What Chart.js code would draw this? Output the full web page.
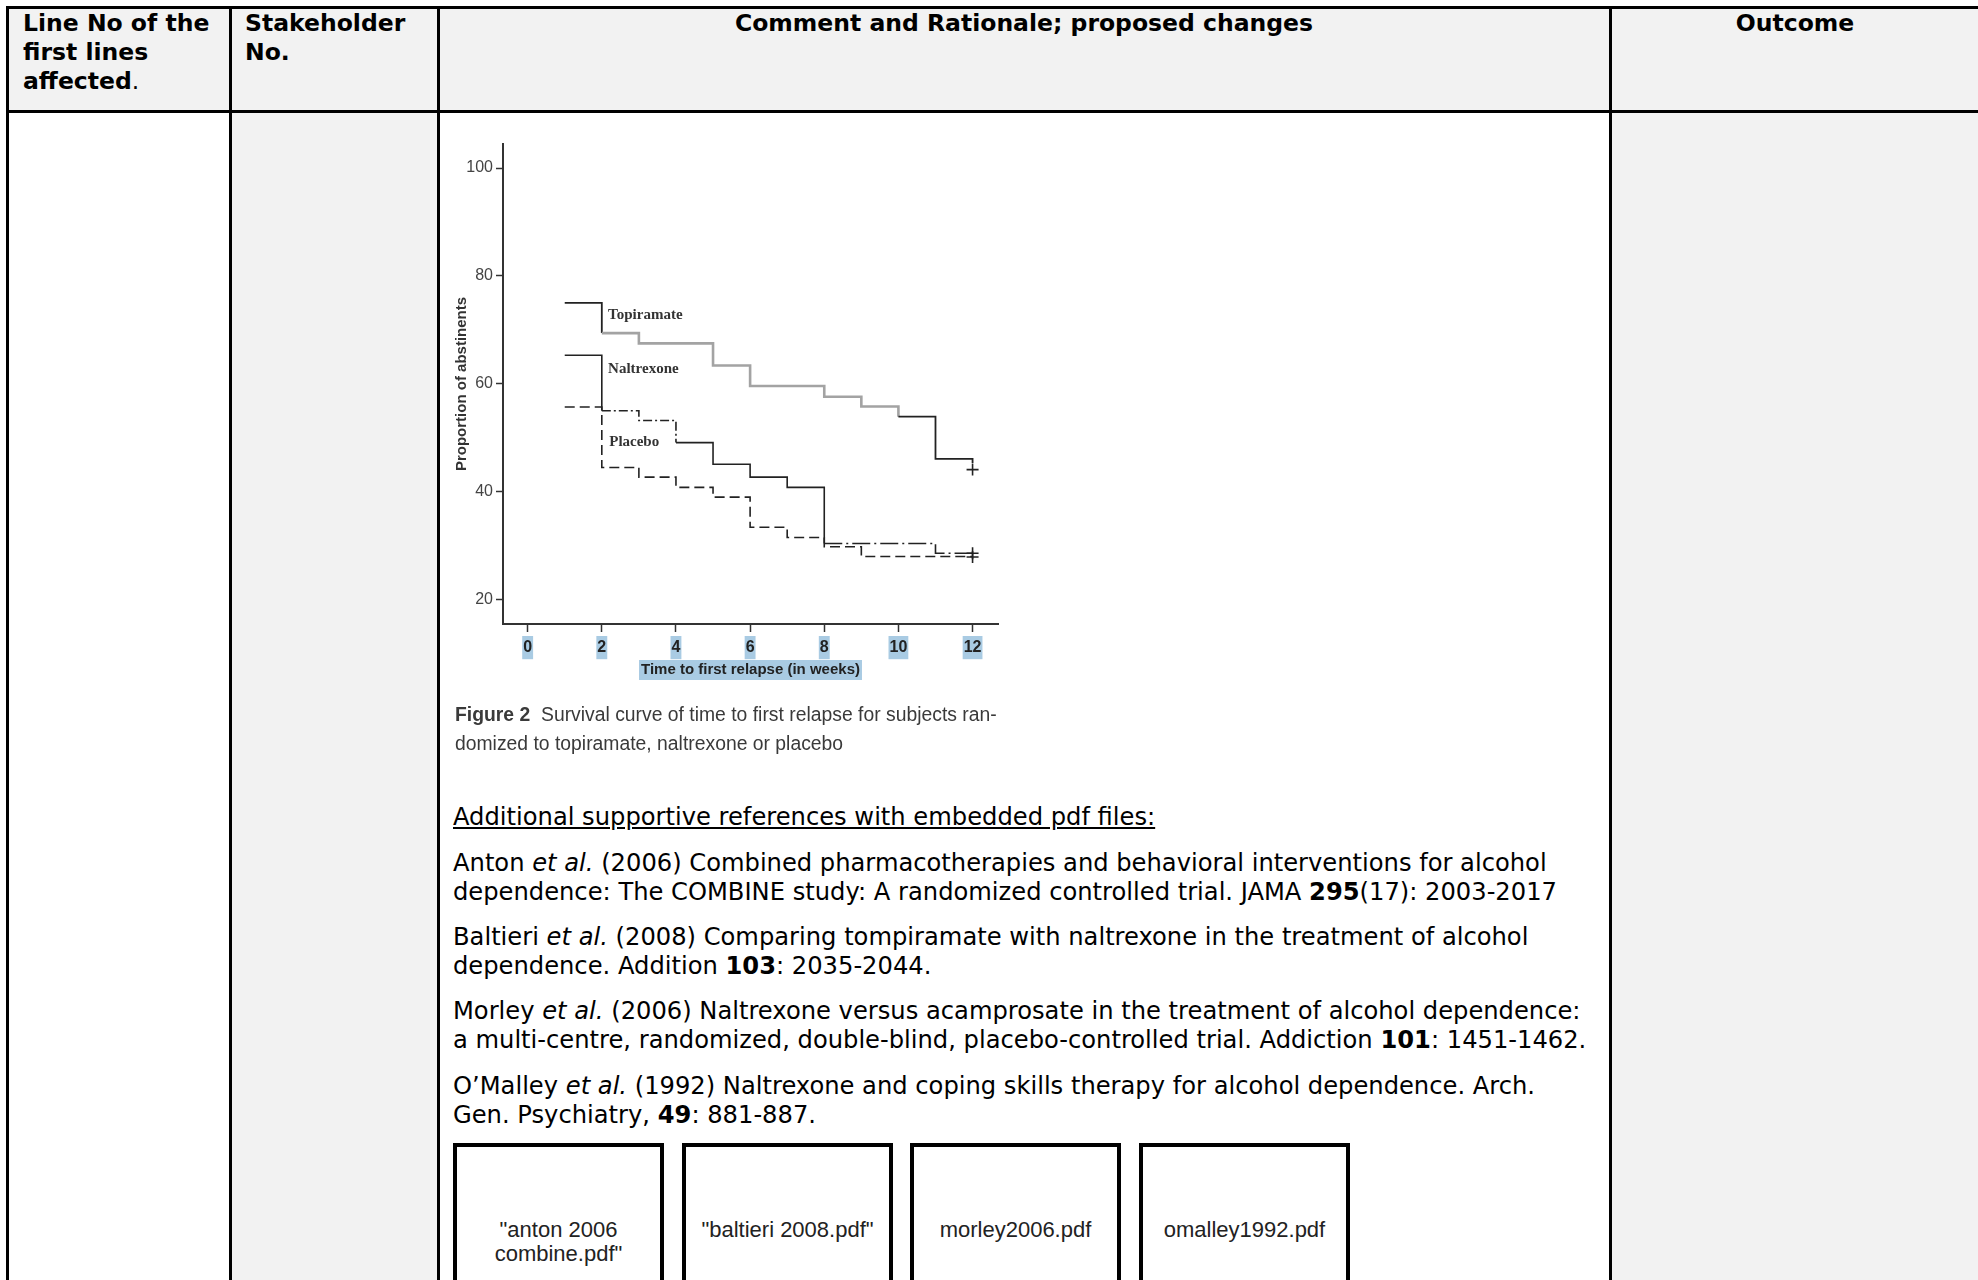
<!DOCTYPE html>
<html>
<head>
<meta charset="utf-8">
<script src="https://cdn.jsdelivr.net/npm/chart.js@4.4.1/dist/chart.umd.min.js"></script>
<style>
  body { margin: 0; background: #fff; }
  #page { position: relative; width: 1978px; height: 1280px; overflow: hidden; font-family: "DejaVu Sans", Verdana, sans-serif; color: #000; }
  .line { position: absolute; background: #000; }
  .shade { position: absolute; background: #f2f2f2; }
  .hd { position: absolute; top: 9px; font-weight: bold; font-size: 23.5px; line-height: 29px; white-space: nowrap; }
  .ref { position: absolute; left: 453px; font-size: 24.2px; line-height: 29px; white-space: nowrap; }
  .cap { position: absolute; left: 455px; top: 700px; font-family: "Liberation Sans", Arial, sans-serif; font-size: 20px; line-height: 29px; color: #3a3a3a; white-space: nowrap; transform: scaleX(0.967); transform-origin: left top; }
  .box { position: absolute; top: 1143px; width: 203px; height: 200px; border: 4px solid #000; font-family: "Liberation Sans", Arial, sans-serif; font-size: 22px; line-height: 24px; color: #222; }
  .box div { position: absolute; left: 0; right: 0; top: 71px; text-align: center; }
  #chartWrap { position: absolute; left: 440px; top: 124px; width: 580px; height: 580px; }
</style>
</head>
<body>
<div id="page">
  <!-- shading -->
  <div class="shade" style="left:8px; top:8px; width:1975px; height:103px;"></div>
  <div class="shade" style="left:231px; top:112px; width:206px; height:1170px;"></div>
  <div class="shade" style="left:1610px; top:112px; width:370px; height:1170px;"></div>

  <!-- table rules -->
  <div class="line" style="left:6px; top:6px; width:1975px; height:3px;"></div>
  <div class="line" style="left:6px; top:110px; width:1975px; height:3px;"></div>
  <div class="line" style="left:6px; top:6px; width:3px; height:1280px;"></div>
  <div class="line" style="left:229px; top:6px; width:2.5px; height:1280px;"></div>
  <div class="line" style="left:437px; top:6px; width:2.5px; height:1280px;"></div>
  <div class="line" style="left:1609px; top:6px; width:2.5px; height:1280px;"></div>

  <!-- header -->
  <div class="hd" style="left:23px;">Line No of the<br>first lines<br>affected<span style="font-weight:normal">.</span></div>
  <div class="hd" style="left:245px;">Stakeholder<br>No.</div>
  <div class="hd" style="left:439px; width:1170px; text-align:center;">Comment and Rationale; proposed changes</div>
  <div class="hd" style="left:1611px; width:368px; text-align:center;">Outcome</div>

  <!-- chart -->
  <div id="chartWrap"><canvas id="chart" width="580" height="580"></canvas></div>

  <div class="cap"><b>Figure 2</b>&nbsp; Survival curve of time to first relapse for subjects ran-<br>domized to topiramate, naltrexone or placebo</div>

  <!-- references -->
  <div class="ref" style="top:803px;"><u>Additional supportive references with embedded pdf files:</u></div>
  <div class="ref" style="top:849px;">Anton <i>et al.</i> (2006) Combined pharmacotherapies and behavioral interventions for alcohol<br>dependence: The COMBINE study: A randomized controlled trial. JAMA <b>295</b>(17): 2003-2017</div>
  <div class="ref" style="top:923px;">Baltieri <i>et al.</i> (2008) Comparing tompiramate with naltrexone in the treatment of alcohol<br>dependence. Addition <b>103</b>: 2035-2044.</div>
  <div class="ref" style="top:997px;">Morley <i>et al.</i> (2006) Naltrexone versus acamprosate in the treatment of alcohol dependence:<br>a multi-centre, randomized, double-blind, placebo-controlled trial. Addiction <b>101</b>: 1451-1462.</div>
  <div class="ref" style="top:1072px;">O’Malley <i>et al.</i> (1992) Naltrexone and coping skills therapy for alcohol dependence. Arch.<br>Gen. Psychiatry, <b>49</b>: 881-887.</div>

  <!-- embedded file icons -->
  <div class="box" style="left:453px;"><div>"anton 2006<br>combine.pdf"</div></div>
  <div class="box" style="left:682px;"><div>"baltieri 2008.pdf"</div></div>
  <div class="box" style="left:910px;"><div>morley2006.pdf</div></div>
  <div class="box" style="left:1139px;"><div>omalley1992.pdf</div></div>
</div>

<script>
// survival curves (weeks 1..12, % abstinent)
const weeks = [1, 2, 3, 4, 5, 6, 7, 8, 9, 10, 11, 12];
const topiramate = [75.0, 69.4, 67.5, 67.5, 63.4, 59.6, 59.6, 57.6, 55.8, 53.9, 46.1, 45.3];
const naltrexone = [65.3, 55.0, 53.2, 49.1, 45.1, 42.7, 40.8, 30.4, 30.4, 30.4, 28.6, 28.6];
const placebo = [55.7, 44.5, 42.7, 40.8, 39.0, 33.4, 31.5, 29.8, 28.0, 28.0, 28.0, 28.0];

// censored marks at the end of follow-up
const censorWeeks = [12, 12, 12];
const censorValues = [44.1, 28.6, 27.9];

const xTicks = [0, 2, 4, 6, 8, 10, 12];
const yTicks = [20, 40, 60, 80, 100];
const curveNames = ["Topiramate", "Naltrexone", "Placebo"];

const toPoints = (xs, ys) => xs.map((x, i) => ({ x: x, y: ys[i] }));

// where the curve names sit, in data units
const nameSpots = [[2.17, 72.8], [2.17, 62.7], [2.2, 49.1]];

const curveNamesPlugin = {
  id: "curveNames",
  beforeDraw(chart) {
    // blue highlight behind the x axis title
    const c = chart.ctx;
    const s = chart.scales.x;
    c.save();
    c.font = "bold 15px 'Liberation Sans'";
    const w = c.measureText(s.options.title.text).width;
    const cx = (s.left + s.right) / 2;
    c.fillStyle = "#a9cbe3";
    c.fillRect(cx - w / 2 - 2, s.bottom - 24, w + 4, 20);
    c.restore();
  },
  afterDatasetsDraw(chart) {
    const c = chart.ctx;
    const x = chart.scales.x, y = chart.scales.y;
    c.save();
    c.font = "bold 15px 'Liberation Serif'";
    c.fillStyle = "#333";
    c.textBaseline = "middle";
    curveNames.forEach((n, i) => {
      c.fillText(n, x.getPixelForValue(nameSpots[i][0]), y.getPixelForValue(nameSpots[i][1]));
    });
    c.restore();
  }
};

const dark = "#222";

new Chart(document.getElementById("chart"), {
  type: "line",
  data: {
    datasets: [
      {
        label: curveNames[0],
        data: toPoints(weeks, topiramate),
        stepped: true,
        borderColor: dark,
        borderWidth: 1.8,
        pointRadius: 0,
        segment: {
          borderColor: (c) => (c.p0DataIndex >= 1 && c.p0DataIndex <= 8 ? "#a3a3a3" : dark),
          borderWidth: (c) => (c.p0DataIndex >= 1 && c.p0DataIndex <= 8 ? 2.6 : 1.8)
        }
      },
      {
        label: curveNames[1],
        data: toPoints(weeks, naltrexone),
        stepped: true,
        borderColor: dark,
        borderWidth: 1.6,
        pointRadius: 0,
        segment: {
          borderDash: (c) => {
            const i = c.p0DataIndex;
            if (i === 0 || (i >= 3 && i <= 6)) return [];
            if (i <= 2) return [9, 3, 2, 3];
            return [18, 4, 2, 4];
          }
        }
      },
      {
        label: curveNames[2],
        data: toPoints(weeks, placebo),
        stepped: true,
        borderColor: dark,
        borderWidth: 1.6,
        borderDash: [10, 5],
        pointRadius: 0
      },
      {
        label: "censored",
        data: toPoints(censorWeeks, censorValues),
        showLine: false,
        pointStyle: "cross",
        pointRadius: 6,
        borderColor: dark,
        borderWidth: 1.6
      }
    ]
  },
  options: {
    responsive: false,
    animation: false,
    events: [],
    layout: { padding: { top: 20, left: 13, right: 22, bottom: 20 } },
    plugins: { legend: { display: false }, tooltip: { enabled: false } },
    scales: {
      x: {
        type: "linear",
        min: -0.665,
        max: 12.686,
        afterFit: (s) => { s.height = 60; },
        afterBuildTicks: (s) => { s.ticks = xTicks.map((v) => ({ value: v })); },
        border: { color: "#333", width: 2 },
        grid: { drawOnChartArea: false, tickLength: 8, tickColor: "#333", tickWidth: 1.5 },
        ticks: {
          font: { family: "Liberation Sans", size: 16, weight: "bold" },
          color: "#222",
          padding: 6,
          maxRotation: 0,
          showLabelBackdrop: true,
          backdropColor: "#a9cbe3",
          backdropPadding: { top: 2, bottom: 2, left: 1, right: 1 }
        },
        title: {
          display: true,
          text: "Time to first relapse (in weeks)",
          font: { family: "Liberation Sans", size: 15, weight: "bold" },
          color: "#222",
          padding: { top: 0, bottom: 5 }
        }
      },
      y: {
        min: 15.48,
        max: 104.45,
        afterFit: (s) => { s.width = 50; },
        afterBuildTicks: (s) => { s.ticks = yTicks.map((v) => ({ value: v })); },
        border: { color: "#333", width: 2 },
        grid: { drawOnChartArea: false, tickLength: 7, tickColor: "#333", tickWidth: 1.5 },
        ticks: {
          font: { family: "Liberation Sans", size: 16 },
          color: "#444",
          padding: 3
        },
        title: {
          display: true,
          text: "Proportion of abstinents",
          font: { family: "Liberation Sans", size: 15, weight: "bold" },
          color: "#333",
          padding: { top: 0, bottom: 0 }
        }
      }
    }
  },
  plugins: [curveNamesPlugin]
});
</script>
</body>
</html>
